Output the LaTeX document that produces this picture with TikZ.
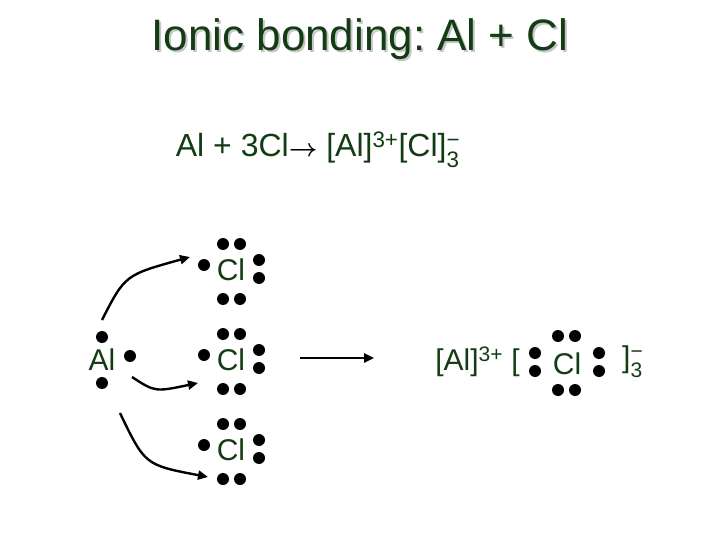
\documentclass[tikz,border=0pt]{standalone}
\usepackage{amsmath}
\usepackage{fontspec}
\setmainfont{Liberation Sans}
\usetikzlibrary{arrows.meta}
\definecolor{chemgreen}{RGB}{20,60,20}
\newcommand{\minusthree}{$_{\text{3}}^{\text{−}}$}
\frenchspacing
\begin{document}
\begin{tikzpicture}[x=1pt,y=-1pt]
\tikzstyle{elem} = [text=chemgreen,font=\fontsize{30}{34}\selectfont,inner sep=0pt]
\tikzstyle{dot} = [fill=black,circle,minimum size=12pt,inner sep=0pt]
\tikzstyle{arrow} = [line width=2.4pt,-{Triangle[length=10pt,width=9pt]}]
\useasboundingbox (0,0) rectangle (720,540);

% title and equation
\node (titleshadow) [text=gray!45,font=\fontsize{44}{48}\selectfont] at (362,41) {Ionic bonding: Al + Cl};
\node (title) [text=chemgreen,font=\fontsize{44}{48}\selectfont] at (360,39) {Ionic bonding: Al + Cl};
\node (eq) [elem,font=\fontsize{32}{36}\selectfont] at (318,150) {Al + 3Cl{\color{black}$\boldsymbol{\rightarrow}$} [Al]\textsuperscript{3+}[Cl]\minusthree};

% aluminium
\node (al) [elem] at (102,360) {Al};
\node (al1) [dot] at (102,337) {};
\node (al2) [dot] at (130,356) {};
\node (al3) [dot] at (102,383) {};

% chlorine atoms
\foreach \n/\y in {a/268,b/358,c/448}{
  \node (cl\n) [elem] at (231,\y+2) {Cl};
  \node [dot] at (204,\y-3) {};
  \node [dot] at (223,\y-24) {};
  \node [dot] at (240,\y-24) {};
  \node [dot] at (259,\y-8) {};
  \node [dot] at (259,\y+10) {};
  \node [dot] at (223,\y+31) {};
  \node [dot] at (240,\y+31) {};
}

\coordinate (s1) at (102,320);
\coordinate (e1) at (190,257);
\coordinate (s2) at (132,377);
\coordinate (e2) at (198,383);
\coordinate (s3) at (120,413);
\coordinate (e3) at (208,477);
\draw [arrow] (s1) .. controls (125,275) .. (e1);
\draw [arrow] (s2) .. controls (155,392) .. (e2);
\draw [arrow] (s3) .. controls (145,465) .. (e3);

% product
\coordinate (p1) at (300,358);
\coordinate (p2) at (374,358);
\draw [arrow] (p1) -- (p2);
\node (alion) [elem,anchor=east] at (520,362) {[Al]\textsuperscript{3+} [};
\node (clion) [elem] at (567,364) {Cl};
\node [dot] at (535,353) {};
\node [dot] at (535,371) {};
\node [dot] at (558,336) {};
\node [dot] at (575,336) {};
\node [dot] at (599,353) {};
\node [dot] at (599,371) {};
\node [dot] at (558,390) {};
\node [dot] at (575,390) {};
\node (close) [elem,anchor=west] at (622,362) {]\minusthree};
\end{tikzpicture}
\end{document}
